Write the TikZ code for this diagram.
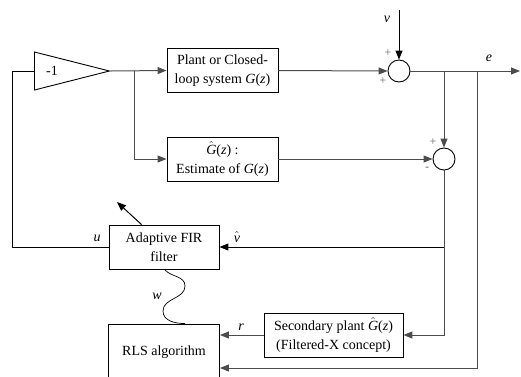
\documentclass[tikz,border=0pt]{standalone}
\usepackage{fontspec}
\setmainfont{Liberation Serif}
\usetikzlibrary{arrows.meta,shapes.geometric,positioning}

\begin{document}
\begin{tikzpicture}[x=1pt,y=-1pt,>={Triangle[length=9pt,width=7pt]},
    font=\fontsize{14}{19}\selectfont]
    \tikzstyle{block}=[draw,line width=0.9pt,minimum width=111pt,minimum height=44pt,align=center,inner sep=2pt]
    \tikzstyle{sum}=[draw,line width=0.9pt,circle,minimum size=22pt,inner sep=0pt]
    \tikzstyle{gain}=[draw,line width=0.9pt,isosceles triangle,isosceles triangle stretches,
        minimum width=38pt,minimum height=75pt,inner sep=0pt,anchor=lower side]
    \tikzstyle{signal}=[draw=black!70,line width=1pt]
    \tikzstyle{sign}=[font=\fontsize{12}{12}\selectfont,text=black!60,inner sep=0pt]
    \tikzstyle{annot}=[inner sep=1pt]
    \def\hatG{$\hat{\textit{G}}$(\textit{z})}
    \useasboundingbox (0,0) rectangle (521,376);

    % Draw the gain, the blocks and the two summing points
    \node[gain] (K) at (34,71) {};
    \node[annot] (Kt) at (52,71) {-1};
    \node[block] (P) at (222.5,70.5) {Plant or Closed-\\loop system \textit{G}(\textit{z})};
    \node[block] (Gh) at (222.5,159) {\hatG\ :\\Estimate of \textit{G}(\textit{z})};
    \node[block,minimum width=110pt] (F) at (164,247) {Adaptive FIR\\filter};
    \node[block,minimum width=111pt,minimum height=56pt] (R) at (164,352) {RLS algorithm};
    \node[block,minimum width=139pt] (S) at (333.5,335) {Secondary plant \hatG\\(Filtered-X concept)};
    \node[sum] (S1) at (399,71) {};
    \node[sum] (S2) at (444,159) {};

    % Branch points and free ends
    \coordinate (b1) at (134,71);
    \coordinate (b2) at (444,71);
    \coordinate (b3) at (477,71);
    \coordinate (b4) at (444,247);
    \coordinate (vin) at (399,10);
    \coordinate (eout) at (520,71);
    \coordinate (lft) at (12,71);
    \coordinate (ad) at (117,202);

    % Forward path
    \draw[signal,->] (K.apex) -- (P.west);
    \draw[signal,->] (b1) |- (Gh.west);
    \draw[signal,->] (P.east) -- (S1.west);
    \draw[black,line width=1pt,->] (vin) -- (S1.north);
    \draw[signal,->] (S1.east) -- (eout);
    \draw[signal,->] (b2) -- (S2.north);
    \draw[signal,->] (Gh.east) -- (S2.west);

    % Error estimate to the filter and to the secondary plant
    \draw[signal,->] (S2.south) |- (S.east);
    \draw[black,line width=1pt,->] (b4) -- (F.east);
    \draw[black,line width=1pt] (F.west) -| (lft) -- (K.lower side);

    % Inputs of the RLS algorithm
    \draw[signal,->] (S.west) -- (S.west -| R.east);
    \draw[signal,->] (b3) |- ([yshift=-16pt]R.east);

    % Adaptation of the weights
    \draw[black,line width=1pt,->] ([xshift=33pt]F.north west) -- (ad);
    \draw[black,line width=0.7pt] ([xshift=56pt]F.south west)
        to[out=-50,in=90] (185,286) to[out=-90,in=90] (163,311)
        to[out=-90,in=180] ([xshift=77pt]R.north west);

    % Annotate the signals
    \node[annot] (lv) at (387,19) {\textit{v}};
    \node[annot] (le) at (489,58) {\textit{e}};
    \node[annot] (lu) at (97,238) {\textit{u}};
    \node[annot] (lvh) at (237,237) {$\hat{\textit{v}}$};
    \node[annot] (lw) at (157,296) {\textit{w}};
    \node[annot] (lr) at (241,327) {\textit{r}};
    \foreach \name / \x / \y / \s in {p1/388/53/+,p2/383/81/+,p3/433/142/+,m1/427/169/-}
        \node[sign] (\name) at (\x,\y) {\s};

\end{tikzpicture}
\end{document}
